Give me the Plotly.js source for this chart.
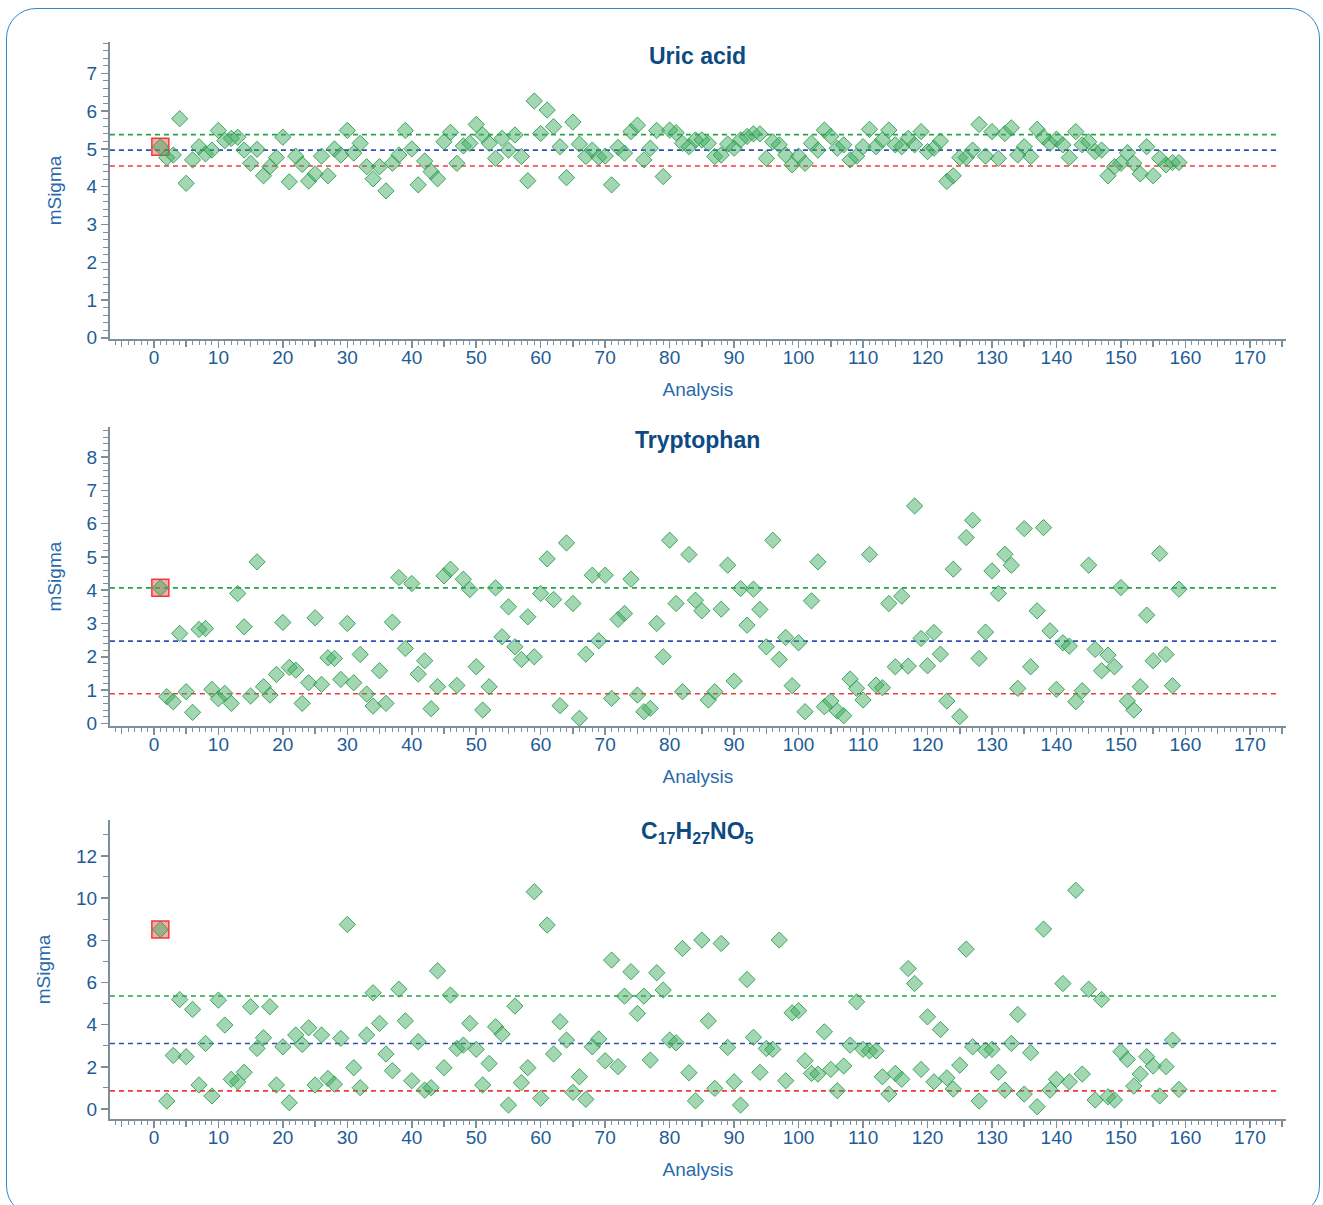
<!DOCTYPE html>
<html>
<head>
<meta charset="utf-8">
<script src="https://cdn.plot.ly/plotly-3.0.1.min.js"></script>
<style>
  html, body { margin: 0; padding: 0; background: #ffffff; overflow: hidden; }
  #frame { position: absolute; left: 6px; top: 8px; width: 1312px; height: 1206px;
           border: 1.5px solid #2f88cc; border-radius: 30px; pointer-events: none; }
  #chart { position: absolute; left: 0; top: 0; width: 1323px; height: 1205px; }
</style>
</head>
<body>
<div id="chart"></div>
<div id="frame"></div>
<script>
// ---------------- data ----------------
const panelTitles = ["Uric acid", "Tryptophan", "C<sub>17</sub>H<sub>27</sub>NO<sub>5</sub>"];

const analysis = [1,2,3,4,5,6,7,8,9,10,11,12,13,14,15,16,17,18,19,20,
  21,22,23,24,25,26,27,28,29,30,31,32,33,34,35,36,37,38,39,40,
  41,42,43,44,45,46,47,48,49,50,51,52,53,54,55,56,57,58,59,60,
  61,62,63,64,65,66,67,68,69,70,71,72,73,74,75,76,77,78,79,80,
  81,82,83,84,85,86,87,88,89,90,91,92,93,94,95,96,97,98,99,100,
  101,102,103,104,105,106,107,108,109,110,111,112,113,114,115,116,117,118,119,120,
  121,122,123,124,125,126,127,128,129,130,131,132,133,134,135,136,137,138,139,140,
  141,142,143,144,145,146,147,148,149,150,151,152,153,154,155,156,157,158,159];

const uricAcid = [5.06,4.77,4.84,5.80,4.09,4.71,5.06,4.87,4.97,5.49,
  5.22,5.28,5.31,4.97,4.62,4.99,4.29,4.53,4.77,5.31,
  4.13,4.81,4.59,4.15,4.34,4.81,4.29,5.00,4.84,5.49,
  4.89,5.15,4.53,4.21,4.53,3.89,4.62,4.84,5.49,5.00,
  4.05,4.68,4.40,4.21,5.19,5.44,4.62,5.08,5.15,5.65,
  5.37,5.15,4.75,5.28,4.97,5.37,4.80,4.16,6.27,5.41,
  6.03,5.59,5.06,4.24,5.71,5.13,4.80,4.97,4.78,4.81,
  4.05,5.04,4.89,5.46,5.63,4.71,5.02,5.49,4.27,5.50,
  5.43,5.15,5.06,5.24,5.24,5.15,4.80,4.84,5.13,5.02,
  5.24,5.33,5.40,5.40,4.75,5.19,5.11,4.84,4.58,4.81,
  4.62,5.15,4.97,5.50,5.33,5.02,5.11,4.71,4.81,5.06,
  5.52,5.06,5.24,5.50,5.11,5.06,5.28,5.11,5.46,4.93,
  5.02,5.21,4.14,4.29,4.77,4.77,4.97,5.65,4.81,5.46,
  4.75,5.41,5.56,4.84,5.06,4.80,5.52,5.31,5.15,5.26,
  5.11,4.77,5.46,5.11,5.19,4.93,4.97,4.29,4.53,4.62,
  4.90,4.62,4.34,5.06,4.29,4.75,4.58,4.64,4.64];

const tryptophan = [4.07,0.80,0.65,2.70,0.95,0.33,2.82,2.85,1.02,0.74,
  0.90,0.60,3.90,2.90,0.82,4.85,1.10,0.85,1.47,3.03,
  1.68,1.60,0.60,1.22,3.17,1.17,1.97,1.95,1.32,3.00,
  1.22,2.07,0.88,0.52,1.58,0.60,3.04,4.38,2.25,4.20,
  1.48,1.88,0.44,1.10,4.43,4.63,1.14,4.33,4.02,1.70,
  0.40,1.10,4.07,2.60,3.50,2.30,1.92,3.20,2.00,3.90,
  4.94,3.72,0.53,5.42,3.60,0.15,2.08,4.45,2.48,4.45,
  0.75,3.12,3.30,4.33,0.85,0.35,0.45,3.00,2.00,5.50,
  3.60,0.95,5.07,3.70,3.38,0.70,0.95,3.43,4.75,1.27,
  4.05,2.95,4.03,3.42,2.30,5.50,1.92,2.58,1.13,2.42,
  0.35,3.68,4.85,0.50,0.67,0.37,0.23,1.33,1.05,0.70,
  5.07,1.15,1.07,3.60,1.70,3.82,1.72,6.53,2.55,1.73,
  2.73,2.08,0.67,4.63,0.20,5.58,6.10,1.95,2.74,4.58,
  3.90,5.08,4.75,1.05,5.85,1.70,3.38,5.88,2.78,1.02,
  2.42,2.32,0.65,0.98,4.75,2.22,1.58,2.05,1.70,4.08,
  0.67,0.40,1.10,3.25,1.88,5.10,2.07,1.13,4.03];

const c17h27no5 = [8.51,0.38,2.54,5.19,2.48,4.72,1.14,3.11,0.62,5.16,
  3.98,1.41,1.29,1.74,4.85,2.87,3.38,4.85,1.14,2.95,
  0.30,3.51,3.06,3.85,1.14,3.51,1.45,1.18,3.35,8.75,
  1.96,1.01,3.51,5.51,4.06,2.61,1.82,5.68,4.18,1.34,
  3.19,0.90,1.01,6.55,1.96,5.40,2.87,3.03,4.06,2.83,
  1.14,2.16,3.90,3.55,0.19,4.88,1.25,1.96,10.30,0.51,
  8.72,2.61,4.14,3.27,0.79,1.53,0.46,2.95,3.32,2.29,
  7.06,2.01,5.35,6.51,4.53,5.35,2.32,6.46,5.64,3.27,
  3.14,7.61,1.72,0.39,8.01,4.18,0.98,7.85,2.92,1.29,
  0.19,6.14,3.40,1.74,2.87,2.83,8.01,1.34,4.56,4.66,
  2.29,1.69,1.66,3.66,1.88,0.87,2.04,3.03,5.08,2.83,
  2.76,2.76,1.53,0.71,1.69,1.41,6.66,5.95,1.88,4.37,
  1.29,3.77,1.48,0.95,2.08,7.58,2.95,0.38,2.79,2.83,
  1.74,0.90,3.11,4.48,0.71,2.67,0.11,8.53,0.90,1.41,
  5.95,1.29,10.37,1.66,5.68,0.43,5.19,0.58,0.43,2.72,
  2.35,1.09,1.66,2.48,2.04,0.62,2.01,3.27,0.93];

const upperLimit = [5.38, 4.07, 5.36];
const meanLine   = [4.97, 2.47, 3.11];
const lowerLimit = [4.55, 0.89, 0.86];

const yRanges = [[-0.03, 7.83], [-0.08, 8.9], [-0.47, 13.7]];
const yMajor  = [1, 1, 2];
const yMinor  = [0.2, 0.2, 1];

// ---------------- styling ----------------
const FONT = "Liberation Sans, Arial, sans-serif";
const TICKCOL = "#1d5c98";
const AXCOL = "#7f8f9a";
const seriesList = [uricAcid, tryptophan, c17h27no5];
const yDomains = [[0.7187, 0.9651], [0.3975, 0.6456], [0.0714, 0.3195]];
const titleY = [1 - 56/1205, 1 - 440/1205, 1 - 832/1205];
const xDomain = [0.0831, 0.9720];
const xRange = [-6.82, 175.6];

const traces = [];
const layout = {
  width: 1323, height: 1205,
  margin: {l: 0, r: 0, t: 0, b: 0},
  paper_bgcolor: "rgba(0,0,0,0)",
  plot_bgcolor: "rgba(0,0,0,0)",
  showlegend: false,
  font: {family: FONT, color: TICKCOL, size: 19},
  shapes: [],
  annotations: []
};

for (let p = 0; p < 3; p++) {
  const sfx = p === 0 ? "" : String(p + 1);
  const xa = "x" + sfx, ya = "y" + sfx;
  const vals = seriesList[p];

  // highlighted first analysis
  traces.push({
    type: "scatter", mode: "markers", xaxis: xa, yaxis: ya,
    x: [analysis[0]], y: [vals[0]],
    marker: {symbol: "square", size: 17, color: "rgba(238,70,70,0.45)",
             line: {color: "rgba(240,50,50,0.95)", width: 1.5}},
    hoverinfo: "x+y"
  });
  traces.push({
    type: "scatter", mode: "markers", xaxis: xa, yaxis: ya,
    x: analysis, y: vals,
    marker: {symbol: "diamond", size: 12.5, color: "rgba(62,172,96,0.48)",
             line: {color: "rgba(46,158,78,0.9)", width: 1}},
    hoverinfo: "x+y"
  });

  layout["xaxis" + sfx] = {
    domain: xDomain, anchor: ya,
    range: xRange,
    showgrid: false, zeroline: false,
    showline: true, linecolor: AXCOL, linewidth: 2,
    tick0: 0, dtick: 10,
    ticks: "outside", ticklen: 7, tickwidth: 1.5, tickcolor: AXCOL,
    ticklabelstandoff: -7,
    minor: {tick0: 0, dtick: 1, ticks: "outside", ticklen: 4, tickwidth: 1, tickcolor: AXCOL, showgrid: false},
    tickfont: {family: FONT, size: 19, color: TICKCOL},
    title: {text: "Analysis", standoff: 16, font: {family: FONT, size: 19, color: "#2a6aab"}},
    automargin: false
  };
  // extra axis carrying the medium ticks at every 5
  layout["xaxis" + (p + 4)] = {
    domain: xDomain, anchor: ya, overlaying: xa,
    range: xRange, showgrid: false, zeroline: false, showline: false,
    tick0: 0, dtick: 5, ticks: "outside", ticklen: 7, tickwidth: 1.5, tickcolor: AXCOL,
    showticklabels: false, automargin: false
  };
  layout["yaxis" + sfx] = {
    domain: yDomains[p], anchor: xa,
    range: yRanges[p],
    showgrid: false, zeroline: false,
    showline: true, linecolor: AXCOL, linewidth: 2,
    tick0: 0, dtick: yMajor[p],
    ticks: "outside", ticklen: 7, tickwidth: 1.5, tickcolor: AXCOL,
    minor: {tick0: 0, dtick: yMinor[p], ticks: "outside", ticklen: 5, tickwidth: 1, tickcolor: AXCOL, showgrid: false},
    tickfont: {family: FONT, size: 19, color: TICKCOL},
    title: {text: "mSigma", standoff: 20, font: {family: FONT, size: 19, color: "#2a6aab"}},
    automargin: false
  };

  const lines = [[upperLimit[p], "#25a347"], [meanLine[p], "#2f4fb5"], [lowerLimit[p], "#f23a3a"]];
  lines.forEach(([v, c]) => {
    layout.shapes.push({
      type: "line", xref: xa + " domain", yref: ya,
      x0: 0, x1: 0.993, y0: v, y1: v,
      line: {color: c, width: 1.6, dash: "5px,4px"}, layer: "below"
    });
  });

  layout.annotations.push({
    text: "<b>" + panelTitles[p] + "</b>",
    xref: "paper", yref: "paper",
    x: (xDomain[0] + xDomain[1]) / 2, y: titleY[p],
    xanchor: "center", yanchor: "middle", showarrow: false,
    font: {family: FONT, size: 23, color: "#0d4a82"}
  });
}

// empty invisible traces so the overlay tick axes are drawn
for (let p = 0; p < 3; p++) {
  const sfx = p === 0 ? "" : String(p + 1);
  traces.push({type: "scatter", mode: "markers", xaxis: "x" + (p + 4), yaxis: "y" + sfx,
               x: [], y: [], hoverinfo: "skip", showlegend: false});
}

Plotly.newPlot("chart", traces, layout, {displayModeBar: false, staticPlot: true});
</script>
</body>
</html>
